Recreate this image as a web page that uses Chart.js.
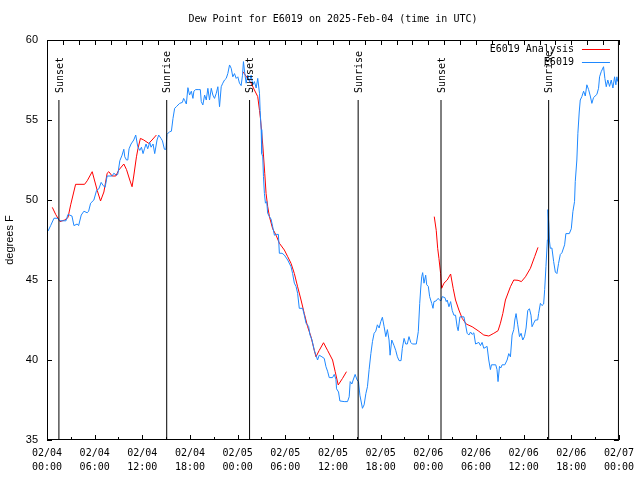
<!DOCTYPE html>
<html><head><meta charset="utf-8">
<script src="https://cdn.jsdelivr.net/npm/chart.js@4/dist/chart.umd.min.js"></script>
<style>html,body{margin:0;padding:0;background:#fff}#wrap{width:640px;height:480px}</style>
</head><body><div id="wrap"><canvas id="c" width="640" height="480"></canvas></div>
<script>
// hours since 2025-02-04 00:00 UTC
const obsHours = [0.13,0.46,0.88,1.29,1.63,2.39,2.64,3.14,3.39,3.80,3.98,4.31,4.65,5.06,5.24,5.49,5.90,6.24,6.53,6.82,7.07,7.32,7.57,8.20,8.41,8.75,8.91,9.17,9.45,9.67,9.79,10.01,10.17,10.33,10.58,10.92,11.17,11.43,11.68,11.89,12.09,12.27,12.47,12.68,12.93,13.10,13.35,13.56,13.85,14.06,14.35,14.53,14.78,14.98,15.10,15.44,15.66,15.86,16.07,16.28,16.70,17.04,17.20,17.36,17.54,17.74,17.95,18.17,18.37,18.49,18.71,19.12,19.30,19.42,19.62,19.84,20.05,20.25,20.46,20.68,20.88,21.09,21.31,21.51,21.72,21.93,22.13,22.35,22.56,22.76,22.98,23.19,23.39,23.60,23.82,24.02,24.23,24.44,24.61,24.73,24.90,25.07,25.27,25.49,25.70,25.90,26.11,26.33,26.53,26.75,26.83,26.96,27.03,27.16,27.25,27.37,27.50,27.66,27.78,28.00,28.21,28.41,28.63,28.91,29.13,29.25,29.59,29.88,30.30,30.72,30.92,31.14,31.35,31.55,31.76,32.18,32.39,32.61,32.93,33.11,33.36,33.65,33.86,34.06,34.27,34.61,34.90,35.12,35.32,35.53,35.95,36.16,36.37,36.45,36.70,36.87,37.41,37.83,38.04,38.17,38.38,38.54,38.79,39.04,39.21,39.39,39.51,39.71,39.92,40.14,40.34,40.55,40.77,40.97,41.18,41.39,41.59,41.81,42.02,42.22,42.44,42.65,42.85,43.06,43.19,43.40,43.69,43.90,44.11,44.32,44.57,44.73,44.95,45.16,45.36,45.57,45.79,45.99,46.49,46.74,46.92,47.05,47.17,47.29,47.46,47.67,47.80,48.00,48.17,48.43,48.59,48.71,49.00,49.22,49.43,49.59,49.76,50.09,50.26,50.38,50.60,50.81,51.01,51.22,51.43,51.63,51.76,51.98,52.48,52.69,52.89,53.11,53.32,53.52,53.73,53.95,54.36,54.57,54.77,54.99,55.40,55.61,55.82,55.95,56.49,56.65,56.78,56.96,57.12,57.29,57.63,57.92,58.13,58.34,58.55,58.76,58.89,59.05,59.26,59.48,59.68,59.89,60.11,60.31,60.52,60.73,60.93,61.06,61.27,61.48,61.77,61.89,62.11,62.31,62.52,62.65,62.81,62.99,63.06,63.17,63.24,63.36,63.56,63.78,63.99,64.19,64.40,64.62,64.82,65.16,65.32,65.75,66.00,66.20,66.41,66.50,66.70,66.83,67.00,67.13,67.33,67.55,67.76,67.96,68.18,68.39,68.59,68.80,69.22,69.43,69.56,69.77,70.06,70.23,70.40,70.60,70.82,71.03,71.24,71.45,71.61,71.74,71.86];
const obsDew = [48.06,48.4,48.86,48.86,48.7,48.7,49.1,49.0,48.4,48.5,48.4,49.06,49.3,49.2,49.3,49.8,50.0,50.6,50.7,51.1,50.9,50.8,51.5,51.5,51.67,51.55,51.6,52.46,52.8,53.17,52.7,52.5,52.5,53.2,53.5,53.75,54.06,53.33,53.1,53.3,52.9,53.2,53.5,53.2,53.6,53.3,53.5,52.9,53.75,54.06,53.85,53.7,53.17,53.17,54.1,54.27,54.3,55.1,55.73,55.83,56.04,56.1,56.35,56.2,56.0,57.02,56.56,56.8,56.35,56.8,56.9,56.9,56.9,56.15,55.94,56.56,56.25,56.98,56.25,56.98,56.56,56.35,56.67,57.08,55.83,57.08,57.3,57.5,57.6,57.9,58.44,58.23,57.7,57.9,57.6,57.7,57.3,57.15,57.8,58.65,57.9,57.3,57.8,57.4,57.8,57.2,57.4,57.0,57.6,56.67,55.6,54.4,52.9,52.7,51.46,50.4,49.8,49.9,49.17,48.96,48.8,48.33,47.8,47.85,47.85,46.67,46.67,46.56,46.25,45.83,45.4,44.8,44.6,44.17,43.23,43.23,42.8,42.3,42.1,41.56,41.25,40.6,40.3,40.0,40.3,40.2,40.1,39.58,39.3,38.9,38.9,39.1,38.8,38.2,38.0,37.44,37.4,37.4,37.7,38.65,38.5,38.75,39.1,38.75,38.65,37.8,37.5,36.98,37.2,37.9,38.33,39.4,40.4,41.15,41.67,41.8,42.2,42.0,42.4,42.67,42.08,41.46,41.9,41.25,40.3,41.25,40.9,40.6,40.2,39.96,39.96,40.73,41.35,41.0,41.0,41.46,41.1,41.0,41.0,41.77,43.54,44.5,45.2,45.46,44.8,45.3,44.7,44.6,43.96,43.54,43.23,43.65,43.7,43.85,43.75,43.7,43.96,43.9,43.65,43.75,43.33,43.65,43.1,42.8,42.8,42.08,41.83,42.7,42.7,42.2,41.67,41.56,41.75,41.6,41.7,41.0,41.1,40.9,41.1,40.73,40.85,40.0,39.4,39.7,39.7,39.4,38.65,39.6,39.5,39.7,39.7,40.0,40.4,40.2,41.56,41.9,42.5,42.9,42.2,41.46,41.67,41.25,41.46,42.0,43.1,43.2,42.8,42.08,42.3,42.5,42.5,42.9,43.54,43.4,43.5,44.4,45.83,47.5,49.4,48.5,47.5,46.98,47.0,46.15,45.5,45.4,46.04,46.6,46.7,47.2,47.9,47.9,48.2,49.27,49.9,51.15,52.5,54.17,55.5,56.25,56.46,56.8,56.5,57.2,56.9,56.5,56.04,56.4,56.6,56.98,57.7,58.02,58.33,57.6,57.08,57.5,57.1,57.5,57.0,57.7,57.2,57.7,57.4];
const anaHours = [0.67,1.09,1.63,2.22,2.64,2.98,3.60,4.73,5.06,5.69,6.32,6.74,7.16,7.57,7.78,8.20,8.66,9.04,9.67,10.01,10.42,10.71,10.92,11.26,11.46,11.76,12.18,12.81,13.22,13.77,19.0,24.65,25.27,25.70,26.11,26.53,26.75,26.87,27.16,27.41,27.58,27.78,28.00,28.41,28.84,29.25,29.88,30.30,30.72,31.14,31.55,31.98,32.39,32.81,33.23,33.65,33.86,34.27,34.81,35.32,35.95,36.28,36.66,37.20,37.70,43.0,48.75,49.00,49.18,49.34,49.55,49.68,49.97,50.38,50.81,51.13,51.43,51.85,52.27,52.77,53.52,54.27,54.99,55.62,56.25,56.78,57.08,57.38,57.71,58.34,58.76,59.30,59.72,60.23,60.85,61.39,61.81];
const anaDew = [49.54,49.1,48.65,48.75,48.9,49.7,50.98,50.98,51.2,51.77,50.6,49.94,50.5,51.67,51.77,51.5,51.5,51.875,52.25,51.9,51.25,50.83,51.5,52.7,53.23,53.85,53.75,53.54,53.75,54.06,null,58.02,57.6,57.3,56.875,56.46,55.6,55.1,53.44,51.67,50.4,49.6,48.96,48.2,47.8,47.3,46.875,46.46,46.04,45.4,44.58,43.75,42.9,42.08,41.46,40.6,40.2,40.6,41.08,40.6,40.0,39.27,38.44,38.85,39.27,null,48.96,48.1,46.98,46.35,45.4,44.48,44.8,45.0,45.375,44.48,43.75,43.125,42.6,42.25,42.08,41.83,41.56,41.5,41.67,41.83,42.3,42.9,43.75,44.58,45.0,44.98,44.9,45.2,45.73,46.46,47.04];
const sunsetHours = [1.5, 25.5, 49.6];
const sunriseHours = [15.07, 39.17, 63.15];
const xTickHours = [0,6,12,18,24,30,36,42,48,54,60,66,72];
const xTickLabels = [["02/04","00:00"],["02/04","06:00"],["02/04","12:00"],["02/04","18:00"],["02/05","00:00"],["02/05","06:00"],["02/05","12:00"],["02/05","18:00"],["02/06","00:00"],["02/06","06:00"],["02/06","12:00"],["02/06","18:00"],["02/07","00:00"]];
const yTicks = [35,40,45,50,55,60];
const seriesNames = ["E6019 Analysis","E6019"];
const titleText = "Dew Point for E6019 on 2025-Feb-04 (time in UTC)";
const yTitle = "degrees F";

const MONO = '"DejaVu Sans Mono", monospace';
const RED = '#ff0000', BLUE = '#1e88ff';
const EVENT_TOP = 56.25, Y_MIN = 35, Y_MAX = 60;

const events = [];
sunsetHours.forEach(h => events.push({h, label: 'Sunset'}));
sunriseHours.forEach(h => events.push({h, label: 'Sunrise'}));

const eventSets = events.map(e => ({
  data: [{x: e.h, y: Y_MIN}, {x: e.h, y: EVENT_TOP}],
  borderColor: '#000', borderWidth: 1, pointRadius: 0, order: 0
}));

const deco = {
  id: 'deco',
  afterDatasetsDraw(chart) {
    const {ctx, chartArea: a, scales: {x, y}} = chart;
    ctx.save();
    ctx.strokeStyle = '#000'; ctx.lineWidth = 1;
    ctx.strokeRect(a.left + 0.5, a.top + 0.5, a.right - a.left - 1, a.bottom - a.top - 1);
    ctx.beginPath();
    yTicks.forEach(v => {
      const py = Math.round(y.getPixelForValue(v)) + 0.5;
      ctx.moveTo(a.left, py); ctx.lineTo(a.left + 5, py);
      ctx.moveTo(a.right, py); ctx.lineTo(a.right - 5, py);
    });
    for (let h = 0; h <= 72; h += 3) {
      const px = Math.round(x.getPixelForValue(h)) + 0.5;
      const len = (h % 6 === 0) ? 5 : 3;
      ctx.moveTo(px, a.bottom); ctx.lineTo(px, a.bottom - len);
    }
    for (let h = 0; h <= 72; h += 2) {
      const px = Math.round(x.getPixelForValue(h)) + 0.5;
      ctx.moveTo(px, a.top); ctx.lineTo(px, a.top + 5);
    }
    ctx.stroke();
    // event labels
    ctx.fillStyle = '#000';
    ctx.font = '10px ' + MONO;
    ctx.textAlign = 'left'; ctx.textBaseline = 'middle';
    events.forEach(e => {
      const px = x.getPixelForValue(e.h) + 1;
      const py = y.getPixelForValue(EVENT_TOP) - 7;
      ctx.save(); ctx.translate(px, py); ctx.rotate(-Math.PI / 2);
      ctx.fillText(e.label, 0, 0); ctx.restore();
    });
    // legend
    const cols = [RED, BLUE];
    seriesNames.forEach((n, i) => {
      const ly = a.top + 9 + i * 13;
      ctx.textAlign = 'right';
      ctx.fillText(n, a.right - 45, ly);
      ctx.beginPath(); ctx.strokeStyle = cols[i];
      ctx.moveTo(a.right - 37, ly + 0.5); ctx.lineTo(a.right - 9, ly + 0.5); ctx.stroke();
    });
    ctx.restore();
  }
};

new Chart(document.getElementById('c'), {
  type: 'line',
  data: {
    datasets: [
      ...eventSets,
      {label: seriesNames[0], data: anaHours.map((h, i) => ({x: h, y: anaDew[i]})), borderColor: RED, borderWidth: 1, pointRadius: 0, spanGaps: false, order: 2},
      {label: seriesNames[1], data: obsHours.map((h, i) => ({x: h, y: obsDew[i]})), borderColor: BLUE, borderWidth: 1, pointRadius: 0, order: 1}
    ]
  },
  options: {
    responsive: false, animation: false, devicePixelRatio: 1,
    layout: {padding: {left: 0, right: 20, top: 0, bottom: 0}},
    plugins: {
      legend: {display: false}, tooltip: {enabled: false},
      title: {display: true, fullSize: false, text: titleText, color: '#000', font: {family: MONO, size: 10, weight: 'normal', lineHeight: 1.2}, padding: {top: 13, bottom: 15}}
    },
    scales: {
      x: {
        type: 'linear', min: 0, max: 72,
        afterBuildTicks: s => { s.ticks = xTickHours.map(v => ({value: v})); },
        afterFit: s => { s.height = 40; },
        grid: {display: false, drawTicks: false}, border: {display: false},
        ticks: {
          autoSkip: false, maxRotation: 0, padding: 6, color: '#000',
          font: {family: MONO, size: 10, lineHeight: 1.4},
          callback: v => { const i = xTickHours.indexOf(v); return i >= 0 ? xTickLabels[i] : ''; }
        }
      },
      y: {
        min: Y_MIN, max: Y_MAX,
        afterBuildTicks: s => { s.ticks = yTicks.map(v => ({value: v})); },
        afterFit: s => { s.width = 47; },
        grid: {display: false, drawTicks: false}, border: {display: false},
        ticks: {padding: 9, color: '#000', font: {family: '"Liberation Sans", sans-serif', size: 11}},
        title: {display: true, text: yTitle, color: '#000', padding: {top: 3, bottom: 0}, font: {family: '"Liberation Sans", sans-serif', size: 11}}
      }
    }
  },
  plugins: [deco]
});
</script>
</body></html>
